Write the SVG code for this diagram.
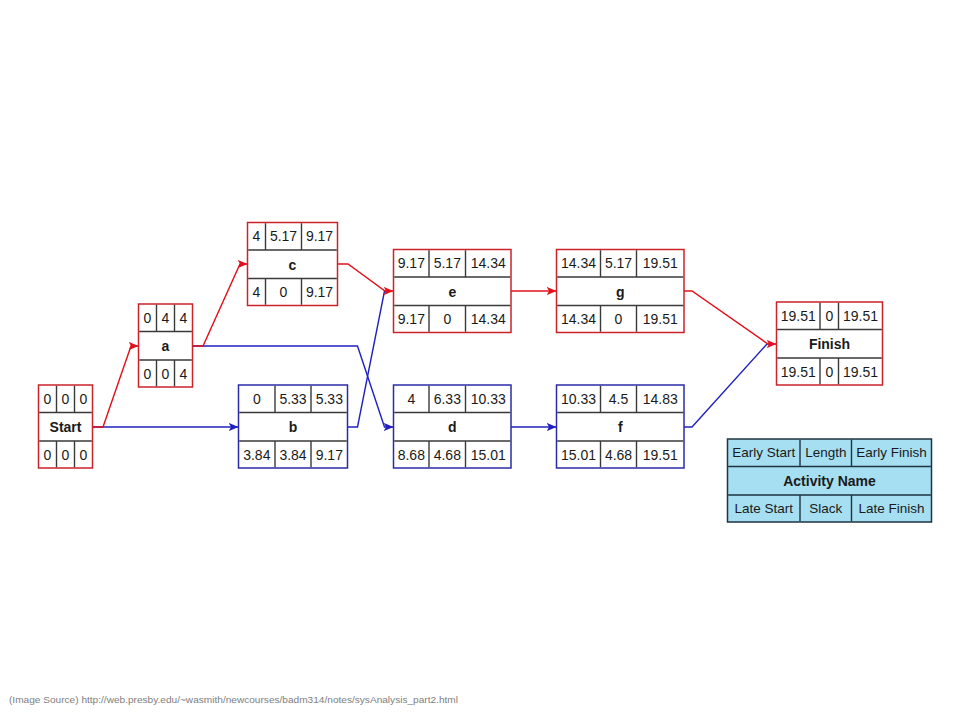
<svg xmlns="http://www.w3.org/2000/svg" width="960" height="720" viewBox="0 0 960 720">
<defs>
<style>
.bg{fill:#ffffff}
.box{fill:#ffffff;stroke-width:1.5}
.red{stroke:#cc2229}
.blue{stroke:#2b2ba8}
.div{stroke:#3a3a3a;stroke-width:1.4;fill:none}
.t{font-family:"Liberation Sans",Arial,sans-serif;font-size:14px;fill:#1a1a1a;text-anchor:middle}
.b{font-weight:bold}
.lt{font-family:"Liberation Sans",Arial,sans-serif;font-size:13.5px;fill:#1a1a1a;text-anchor:middle}
.leg{fill:#a6dff2;stroke:#1f3340;stroke-width:1.5}
.ldiv{stroke:#1f3340;stroke-width:1.4;fill:none}
.er{fill:none;stroke:#e0101c;stroke-width:1.4}
.eb{fill:none;stroke:#2020c0;stroke-width:1.4}
.src{font-family:"Liberation Sans",Arial,sans-serif;font-size:9px;fill:#808080}
</style>
<marker id="ar" markerUnits="userSpaceOnUse" markerWidth="10" markerHeight="10" viewBox="0 0 10 10" refX="10" refY="5" orient="auto">
<path d="M0,0.8 L10,5 L0,9.2 L2.6,5 z" fill="#e0101c"/>
</marker>
<marker id="ab" markerUnits="userSpaceOnUse" markerWidth="10" markerHeight="10" viewBox="0 0 10 10" refX="10" refY="5" orient="auto">
<path d="M0,0.8 L10,5 L0,9.2 L2.6,5 z" fill="#2020c0"/>
</marker>
</defs>
<rect class="bg" x="0" y="0" width="960" height="720"/>

<g id="connectors">
<path class="eb" d="M92.5,427 L238.5,427" marker-end="url(#ab)"/>
<path class="er" d="M92.5,427 L103,427 L131,346 L138.5,346" marker-end="url(#ar)"/>
<path class="eb" d="M192.5,346 L357.5,346 L384.5,427 L393.5,427" marker-end="url(#ab)"/>
<path class="er" d="M192.5,346 L203,346 L240,264 L247.5,264" marker-end="url(#ar)"/>
<path class="eb" d="M347.5,427 L357.5,427 L384.5,291 L390,291"/>
<path class="er" d="M337.5,264 L348,264 L385,291 L393.5,291" marker-end="url(#ar)"/>
<path class="er" d="M511,291 L556.5,291" marker-end="url(#ar)"/>
<path class="eb" d="M511,427 L556.5,427" marker-end="url(#ab)"/>
<path class="eb" d="M684,427 L692,427 L767,344 L772,344"/>
<path class="er" d="M684,291 L692,291 L768,344 L776.5,344" marker-end="url(#ar)"/>
</g>

<g id="node-start">
<rect class="box red" x="38.5" y="385" width="54" height="83"/>
<path class="div" d="M39.2,412.5 H91.8 M39.2,441 H91.8 M56.5,385.7 V412.5 M74.5,385.7 V412.5 M56.5,441 V467.3 M74.5,441 V467.3"/>
<text class="t" x="47.5" y="403.5">0</text><text class="t" x="65.5" y="403.5">0</text><text class="t" x="83.5" y="403.5">0</text>
<text class="t b" x="65.5" y="432">Start</text>
<text class="t" x="47.5" y="459.5">0</text><text class="t" x="65.5" y="459.5">0</text><text class="t" x="83.5" y="459.5">0</text>
</g>

<g id="node-a">
<rect class="box red" x="138.5" y="304" width="54" height="83"/>
<path class="div" d="M139.2,331.5 H191.8 M139.2,360 H191.8 M156.5,304.7 V331.5 M174.5,304.7 V331.5 M156.5,360 V386.3 M174.5,360 V386.3"/>
<text class="t" x="147.5" y="322.5">0</text><text class="t" x="165.5" y="322.5">4</text><text class="t" x="183.5" y="322.5">4</text>
<text class="t b" x="165.5" y="351">a</text>
<text class="t" x="147.5" y="378.5">0</text><text class="t" x="165.5" y="378.5">0</text><text class="t" x="183.5" y="378.5">4</text>
</g>

<g id="node-c">
<rect class="box red" x="247.5" y="222.5" width="90" height="83"/>
<path class="div" d="M248.2,250 H336.8 M248.2,278.5 H336.8 M265.5,223.2 V250 M301.5,223.2 V250 M265.5,278.5 V304.8 M301.5,278.5 V304.8"/>
<text class="t" x="256.5" y="241">4</text><text class="t" x="283.5" y="241">5.17</text><text class="t" x="319.5" y="241">9.17</text>
<text class="t b" x="292.5" y="269.5">c</text>
<text class="t" x="256.5" y="297">4</text><text class="t" x="283.5" y="297">0</text><text class="t" x="319.5" y="297">9.17</text>
</g>

<g id="node-b">
<rect class="box blue" x="238.5" y="385" width="109" height="83"/>
<path class="div" d="M239.2,412.5 H346.8 M239.2,441 H346.8 M275,385.7 V412.5 M311,385.7 V412.5 M275,441 V467.3 M311,441 V467.3"/>
<text class="t" x="256.8" y="403.5">0</text><text class="t" x="293" y="403.5">5.33</text><text class="t" x="329.3" y="403.5">5.33</text>
<text class="t b" x="293" y="432">b</text>
<text class="t" x="256.8" y="459.5">3.84</text><text class="t" x="293" y="459.5">3.84</text><text class="t" x="329.3" y="459.5">9.17</text>
</g>

<g id="node-e">
<rect class="box red" x="393.5" y="249.5" width="117.5" height="83"/>
<path class="div" d="M394.2,277 H510.3 M394.2,305.5 H510.3 M429,250.2 V277 M465.5,250.2 V277 M429,305.5 V331.8 M465.5,305.5 V331.8"/>
<text class="t" x="411.3" y="268">9.17</text><text class="t" x="447.3" y="268">5.17</text><text class="t" x="488.3" y="268">14.34</text>
<text class="t b" x="452.3" y="296.5">e</text>
<text class="t" x="411.3" y="324">9.17</text><text class="t" x="447.3" y="324">0</text><text class="t" x="488.3" y="324">14.34</text>
</g>

<g id="node-d">
<rect class="box blue" x="393.5" y="385" width="117.5" height="83"/>
<path class="div" d="M394.2,412.5 H510.3 M394.2,441 H510.3 M429,385.7 V412.5 M465.5,385.7 V412.5 M429,441 V467.3 M465.5,441 V467.3"/>
<text class="t" x="411.3" y="403.5">4</text><text class="t" x="447.3" y="403.5">6.33</text><text class="t" x="488.3" y="403.5">10.33</text>
<text class="t b" x="452.3" y="432">d</text>
<text class="t" x="411.3" y="459.5">8.68</text><text class="t" x="447.3" y="459.5">4.68</text><text class="t" x="488.3" y="459.5">15.01</text>
</g>

<g id="node-g">
<rect class="box red" x="556.5" y="249.5" width="127.5" height="83"/>
<path class="div" d="M557.2,277 H683.3 M557.2,305.5 H683.3 M600.5,250.2 V277 M636.5,250.2 V277 M600.5,305.5 V331.8 M636.5,305.5 V331.8"/>
<text class="t" x="578.5" y="268">14.34</text><text class="t" x="618.5" y="268">5.17</text><text class="t" x="660.3" y="268">19.51</text>
<text class="t b" x="620.3" y="296.5">g</text>
<text class="t" x="578.5" y="324">14.34</text><text class="t" x="618.5" y="324">0</text><text class="t" x="660.3" y="324">19.51</text>
</g>

<g id="node-f">
<rect class="box blue" x="556.5" y="385" width="127.5" height="83"/>
<path class="div" d="M557.2,412.5 H683.3 M557.2,441 H683.3 M600.5,385.7 V412.5 M636.5,385.7 V412.5 M600.5,441 V467.3 M636.5,441 V467.3"/>
<text class="t" x="578.5" y="403.5">10.33</text><text class="t" x="618.5" y="403.5">4.5</text><text class="t" x="660.3" y="403.5">14.83</text>
<text class="t b" x="620.3" y="432">f</text>
<text class="t" x="578.5" y="459.5">15.01</text><text class="t" x="618.5" y="459.5">4.68</text><text class="t" x="660.3" y="459.5">19.51</text>
</g>

<g id="node-finish">
<rect class="box red" x="776.5" y="302" width="106" height="83"/>
<path class="div" d="M777.2,329.5 H881.8 M777.2,358 H881.8 M820,302.7 V329.5 M838.5,302.7 V329.5 M820,358 V384.3 M838.5,358 V384.3"/>
<text class="t" x="798.3" y="320.5">19.51</text><text class="t" x="829.3" y="320.5">0</text><text class="t" x="860.5" y="320.5">19.51</text>
<text class="t b" x="829.5" y="349">Finish</text>
<text class="t" x="798.3" y="376.5">19.51</text><text class="t" x="829.3" y="376.5">0</text><text class="t" x="860.5" y="376.5">19.51</text>
</g>

<g id="legend">
<rect class="leg" x="727.5" y="439" width="204" height="83"/>
<path class="ldiv" d="M728.2,466.5 H930.8 M728.2,495 H930.8 M800,439.7 V466.5 M851.5,439.7 V466.5 M800,495 V521.3 M851.5,495 V521.3"/>
<text class="lt" x="763.8" y="457">Early Start</text><text class="lt" x="825.8" y="457">Length</text><text class="lt" x="891.5" y="457">Early Finish</text>
<text class="lt b" x="829.5" y="485.5" style="font-size:14px">Activity Name</text>
<text class="lt" x="763.8" y="513">Late Start</text><text class="lt" x="825.8" y="513">Slack</text><text class="lt" x="891.5" y="513">Late Finish</text>
</g>

<text class="src" x="9" y="703" textLength="449" lengthAdjust="spacingAndGlyphs">(Image Source) http://web.presby.edu/~wasmith/newcourses/badm314/notes/sysAnalysis_part2.html</text>
</svg>
